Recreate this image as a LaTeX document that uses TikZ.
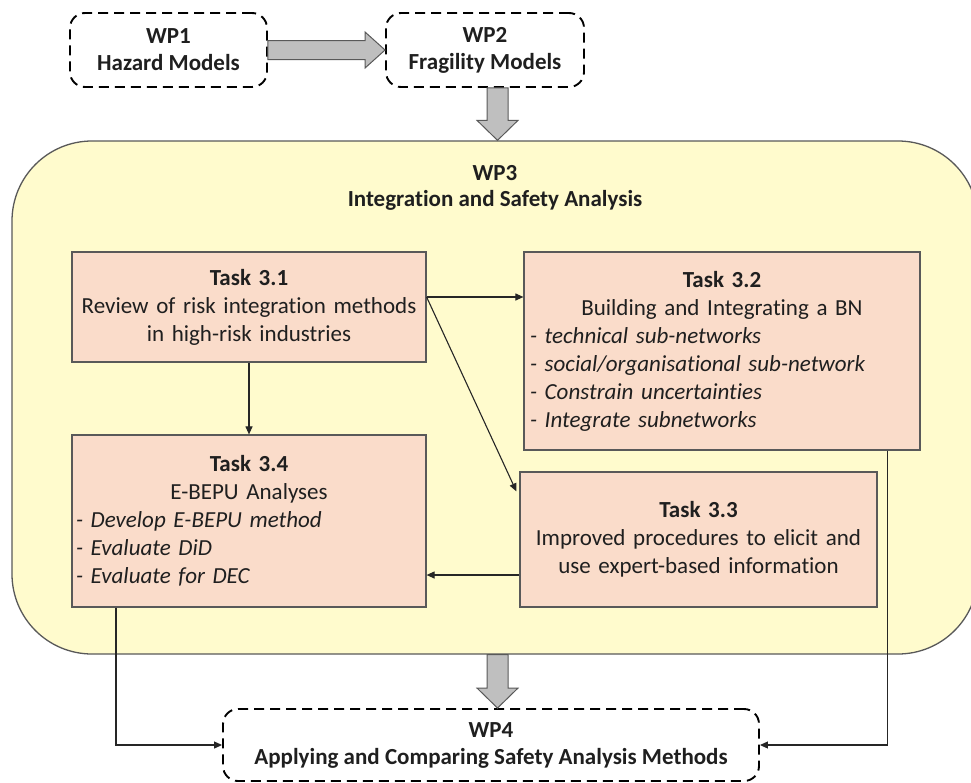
\documentclass[tikz,border=0pt]{standalone}
\usepackage{fontspec}
\setmainfont{Carlito}[Ligatures=NoCommon]
\usetikzlibrary{arrows.meta,calc}
\definecolor{wpyellow}{HTML}{FFFBCD}
\definecolor{taskfill}{HTML}{FADCCA}
\definecolor{arrowgray}{HTML}{BFBFBF}
\definecolor{edgegray}{HTML}{595959}
\definecolor{linedark}{HTML}{262626}
\begin{document}
\begin{tikzpicture}[x=1pt,y=-1pt,
  every node/.style={font=\fontsize{23}{28}\selectfont, text=black!88},
  wpbox/.style={draw=black, line width=1.9pt, dash pattern=on 10pt off 6pt, rounded corners=15pt, inner sep=0pt, align=center, font=\fontsize{23}{27}\selectfont\bfseries},
  taskbox/.style={draw=edgegray, line width=1.2pt, fill=taskfill, inner ysep=0pt},
  conn/.style={draw=linedark, line width=1.1pt, -{Triangle[length=8pt,width=7pt]}},
  blockarrow/.style={draw=edgegray, line width=1pt, fill=arrowgray, line join=miter},
]
\useasboundingbox (0,0) rectangle (971,782);

% WP3 container
\node[draw=edgegray, line width=1.3pt, fill=wpyellow, rounded corners=80pt,
      minimum width=966pt, minimum height=513pt, inner sep=0pt] (wp3) at (495,397.5) {};
\node[font=\fontsize{23}{26}\selectfont\bfseries, align=center] (wp3t) at (495,188)
  {WP3\\Integration and Safety Analysis};

% work packages
\node[wpbox, minimum width=197pt, minimum height=74pt] (wp1) at (168.5,50) {WP1\\Hazard Models};
\node[wpbox, minimum width=198pt, minimum height=74pt] (wp2) at (485,50) {WP2\\Fragility Models};
\node[wpbox, minimum width=536pt, minimum height=72pt] (wp4) at (491,745)
  {WP4\\Applying and Comparing Safety Analysis Methods};

% tasks
\node[taskbox, minimum width=354pt, minimum height=110pt, text width=346pt, inner xsep=4pt, align=center] (t1) at (249,307)
  {\textbf{Task 3.1}\\Review of risk integration methods\\in high-risk industries};
\node[taskbox, minimum width=396pt, minimum height=198pt, text width=384pt, inner xsep=6pt, align=left] (t2) at (722,351)
  {{\centering\textbf{Task 3.2}\\Building and Integrating a BN\par}\itshape
   - technical sub-networks\\- social/organisational sub-network\\- Constrain uncertainties\\- Integrate subnetworks};
\node[taskbox, minimum width=357pt, minimum height=135pt, text width=345pt, inner xsep=6pt, align=center] (t3) at (698.5,539.5)
  {\textbf{Task 3.3}\\Improved procedures to elicit and\\use expert-based information};
\node[taskbox, minimum width=354pt, minimum height=172pt, text width=346pt, inner xsep=4pt, align=left] (t4) at (249,521)
  {{\centering\textbf{Task 3.4}\\E-BEPU Analyses\par}\itshape
   - Develop E-BEPU method\\- Evaluate DiD\\- Evaluate for DEC};

% block arrows
\draw[blockarrow] ($(wp1.east)+(0,-9.5)$) -- ($(wp2.west)+(-20,-9.5)$) -- ($(wp2.west)+(-20,-18)$)
  -- (wp2.west) -- ($(wp2.west)+(-20,18)$) -- ($(wp2.west)+(-20,9.5)$) -- ($(wp1.east)+(0,9.5)$) -- cycle;
\coordinate (d1) at ([xshift=12.5pt]wp2.south);
\coordinate (d1t) at (d1 |- wp3.north);
\draw[blockarrow] ($(d1)+(-10.5,0)$) -- ($(d1t)+(-10.5,-20)$) -- ($(d1t)+(-20.5,-20)$) -- (d1t)
  -- ($(d1t)+(20.5,-20)$) -- ($(d1t)+(10.5,-20)$) -- ($(d1)+(10.5,0)$) -- cycle;
\coordinate (d2) at (d1 |- wp3.south);
\coordinate (d2t) at (d1 |- wp4.north);
\draw[blockarrow] ($(d2)+(-10.5,0)$) -- ($(d2t)+(-10.5,-20)$) -- ($(d2t)+(-20.5,-20)$) -- (d2t)
  -- ($(d2t)+(20.5,-20)$) -- ($(d2t)+(10.5,-20)$) -- ($(d2)+(10.5,0)$) -- cycle;

% connectors
\coordinate (c1) at ([yshift=10pt]t1.east);
\draw[conn] (c1) -- (c1 -| t2.west);
\draw[conn] (c1) -- ([xshift=-3pt,yshift=-20pt]t3.north west);
\draw[conn] (t1.south) -- (t4.north);
\coordinate (c3) at ([yshift=-35.5pt]t3.west);
\draw[conn] (c3) -- (c3 -| t4.east);
\draw[conn] ([xshift=-133pt]t4.south) |- (wp4.west);
\draw[conn] ([xshift=165.5pt]t2.south) |- (wp4.east);
\end{tikzpicture}
\end{document}
